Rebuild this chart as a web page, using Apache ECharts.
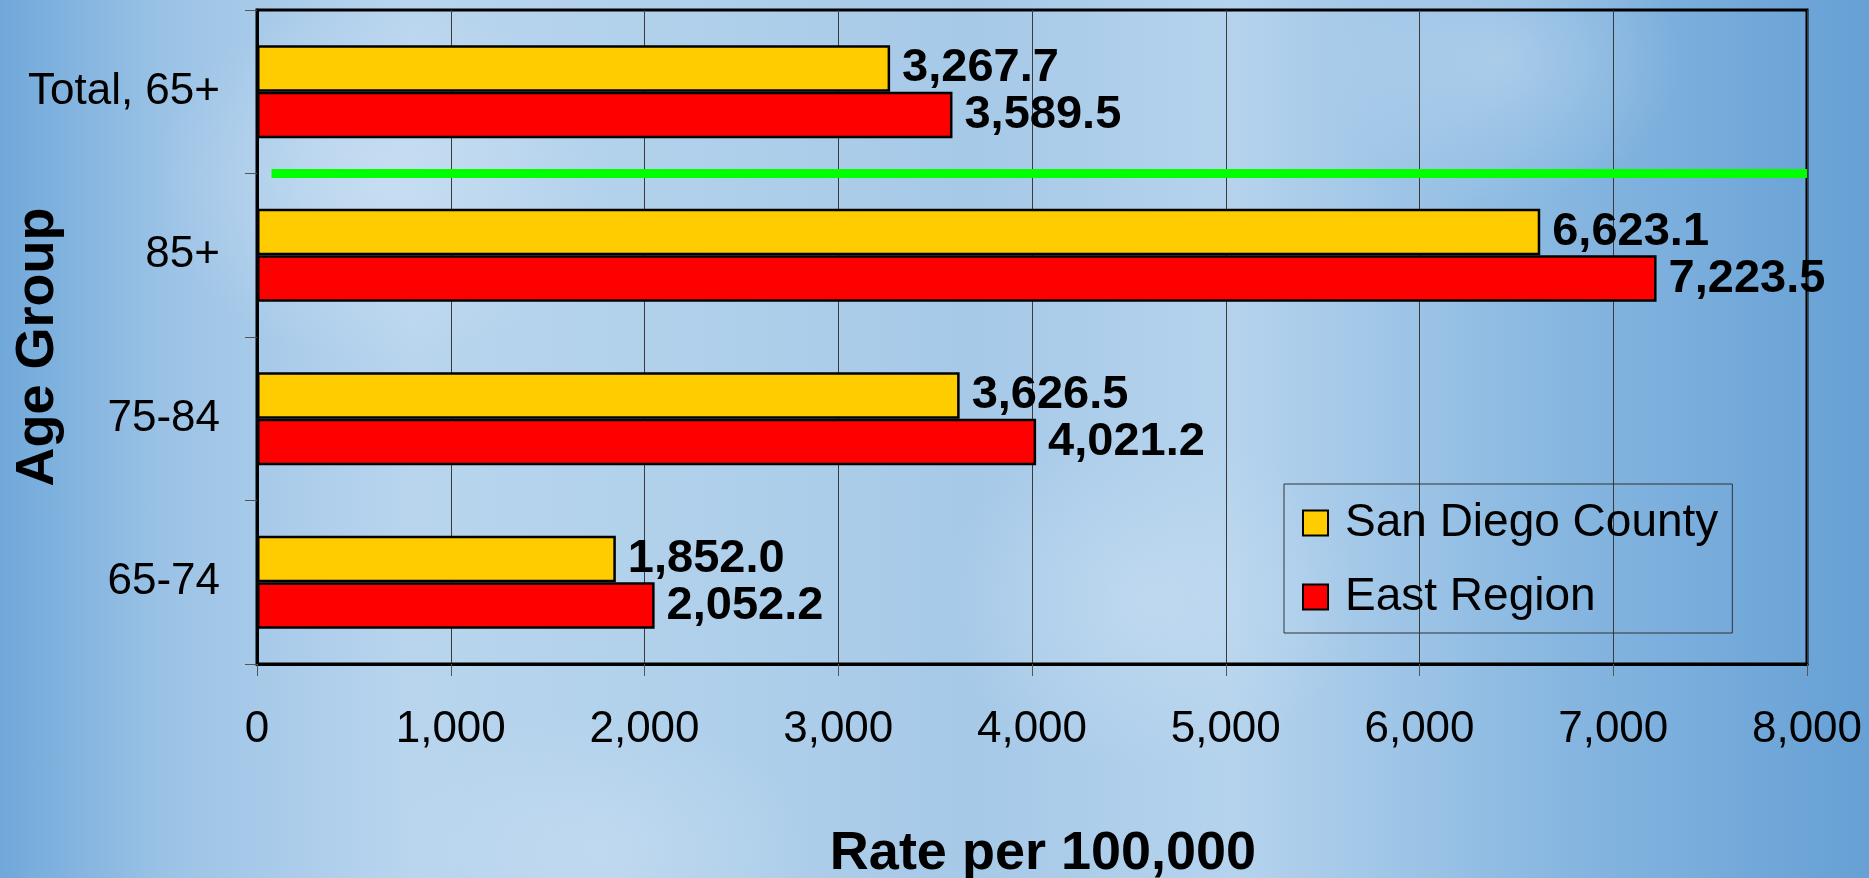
<!DOCTYPE html>
<html>
<head>
<meta charset="utf-8">
<title>Rate per 100,000 by Age Group</title>
<script src="https://cdn.jsdelivr.net/npm/echarts@6/dist/echarts.min.js"></script>
<style>
    html, body {
        margin: 0;
        padding: 0;
        width: 1869px;
        height: 878px;
        overflow: hidden;
    }
    body {
        background:
            radial-gradient(ellipse 320px 260px at 380px 180px, rgba(205,225,243,0.7), rgba(205,225,243,0) 70%),
            radial-gradient(ellipse 300px 240px at 1150px 600px, rgba(200,222,242,0.6), rgba(200,222,242,0) 70%),
            radial-gradient(ellipse 260px 200px at 1500px 60px, rgba(196,220,240,0.5), rgba(196,220,240,0) 70%),
            radial-gradient(ellipse 300px 200px at 600px 850px, rgba(200,222,242,0.6), rgba(200,222,242,0) 70%),
            linear-gradient(to right, #70a8da 0%, #9cc3e6 9%, #b9d5ee 22%, #aecfea 40%, #a6c9e8 52%, #b5d3ed 66%, #86b6e0 84%, #66a0d5 100%);
    }
    #chart {
        width: 1869px;
        height: 878px;
    }
</style>
</head>
<body>
<div id="chart"></div>
<script>
    // categories, top to bottom
    const ageGroups = ['Total, 65+', '85+', '75-84', '65-74'];
    const seriesNames = ['San Diego County', 'East Region'];
    const sanDiegoCounty = [3267.7, 6623.1, 3626.5, 1852.0];
    const eastRegion = [3589.5, 7223.5, 4021.2, 2052.2];
    const xTicks = [0, 1000, 2000, 3000, 4000, 5000, 6000, 7000, 8000];
    // green divider between the total and the age bands (x range, level on a 0..4 band scale)
    const dividerX = [75, 8000];
    const dividerLevel = 3;

    const font = 'Liberation Sans, Arial, sans-serif';

    let myChart = echarts.init(document.getElementById('chart'));

    let barLabel = {
        show: true,
        position: 'right',
        distance: 12,
        fontFamily: font,
        fontSize: 47,
        fontWeight: 'bold',
        color: '#000',
        formatter: p => p.value.toLocaleString('en-US', { minimumFractionDigits: 1, maximumFractionDigits: 1 })
    };

    let option = {
        backgroundColor: 'transparent',
        textStyle: { fontFamily: font, color: '#000' },
        grid: {
            left: 257,
            right: 62,
            top: 10,
            bottom: 214,
            containLabel: false,
            outerBoundsMode: 'none',
            show: true,
            borderColor: '#000',
            borderWidth: 3,
            backgroundColor: 'transparent'
        },
        legend: {
            data: seriesNames,
            orient: 'vertical',
            left: 1284,
            top: 484,
            padding: [16, 14, 13, 18],
            itemGap: 28,
            itemWidth: 25,
            itemHeight: 25,
            icon: 'rect',
            backgroundColor: 'transparent',
            borderColor: '#333',
            borderWidth: 1,
            textStyle: {
                fontFamily: font,
                fontSize: 46,
                color: '#000',
                padding: [0, 0, 0, 12]
            }
        },
        xAxis: {
            type: 'value',
            min: xTicks[0],
            max: xTicks[xTicks.length - 1],
            interval: xTicks[1] - xTicks[0],
            name: 'Rate per 100,000',
            nameLocation: 'middle',
            nameGap: 163,
            nameMoveOverlap: false,
            nameTextStyle: {
                fontFamily: font,
                fontSize: 54,
                fontWeight: 'bold',
                color: '#000',
                padding: [0, 0, 0, 22]
            },
            axisLine: { show: true, lineStyle: { color: '#000', width: 3 } },
            axisTick: { show: true, length: 12, lineStyle: { color: '#555', width: 1 } },
            axisLabel: {
                fontFamily: font,
                fontSize: 44,
                color: '#000',
                margin: 44,
                formatter: v => v.toLocaleString('en-US')
            },
            splitLine: { show: true, lineStyle: { color: '#3a3a3a', width: 1 } }
        },
        yAxis: [
            {
                type: 'category',
                data: ageGroups,
                inverse: true,
                name: 'Age Group',
                nameLocation: 'middle',
                nameGap: 192,
                nameMoveOverlap: false,
                nameRotate: 90,
                nameTextStyle: {
                    fontFamily: font,
                    fontSize: 54,
                    fontWeight: 'bold',
                    color: '#000',
                    padding: [0, 20, 0, 0]
                },
                axisLine: { show: true, lineStyle: { color: '#000', width: 3 } },
                axisTick: { show: true, length: 12, lineStyle: { color: '#555', width: 1 } },
                axisLabel: {
                    fontFamily: font,
                    fontSize: 44,
                    color: '#000',
                    margin: 37
                },
                splitLine: { show: false }
            },
            {
                type: 'value',
                min: 0,
                max: ageGroups.length,
                show: false
            }
        ],
        series: [
            {
                name: seriesNames[0],
                type: 'bar',
                data: sanDiegoCounty,
                barGap: '0%',
                barCategoryGap: '43%',
                itemStyle: { color: '#FFCC00', borderColor: '#000', borderWidth: 2.5 },
                label: barLabel
            },
            {
                name: seriesNames[1],
                type: 'bar',
                data: eastRegion,
                barGap: '0%',
                barCategoryGap: '43%',
                itemStyle: { color: '#FF0000', borderColor: '#000', borderWidth: 2.5 },
                label: barLabel
            },
            {
                name: 'divider',
                type: 'line',
                yAxisIndex: 1,
                data: dividerX.map(x => [x, dividerLevel]),
                symbol: 'none',
                silent: true,
                z: 5,
                lineStyle: { color: '#00FF00', width: 9, cap: 'butt' }
            }
        ]
    };

    myChart.setOption(option);
</script>
</body>
</html>
